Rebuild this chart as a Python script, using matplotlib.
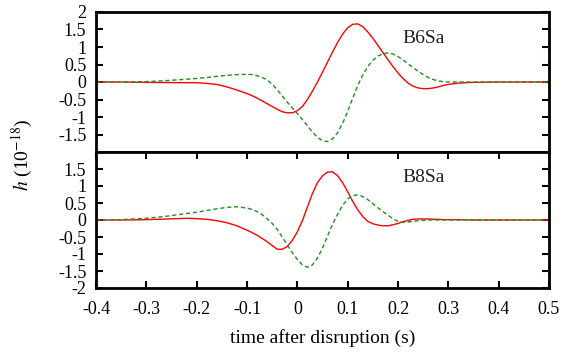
import matplotlib
matplotlib.use("Agg")
import matplotlib.pyplot as plt
from matplotlib.ticker import FixedLocator

t = ([-0.4, -0.35, -0.3, -0.26, -0.22, -0.2, -0.18, -0.16, -0.14, -0.12]
     + [round(-0.10 + 0.01 * i, 2) for i in range(41)]
     + [0.32, 0.35, 0.4, 0.5])

b6_red = [0, 0, -0.01, -0.015, -0.02, -0.02, -0.04, -0.07, -0.14, -0.23,
          -0.33, -0.39, -0.46, -0.54, -0.62, -0.70, -0.78, -0.85, -0.88, -0.88,
          -0.82, -0.70, -0.50, -0.26, 0.0, 0.28, 0.57, 0.86, 1.13, 1.37,
          1.55, 1.65, 1.66, 1.58, 1.43, 1.25, 1.05, 0.84, 0.64, 0.44,
          0.26, 0.10, -0.03, -0.12, -0.17, -0.19, -0.19, -0.17, -0.14, -0.10,
          -0.07,
          -0.03, -0.01, 0, 0]
b6_green = [0, 0, 0.01, 0.04, 0.08, 0.10, 0.13, 0.16, 0.19, 0.21,
            0.22, 0.21, 0.18, 0.13, 0.06, -0.06, -0.22, -0.40, -0.58, -0.74,
            -0.90, -1.07, -1.25, -1.43, -1.58, -1.68, -1.70, -1.62, -1.45, -1.18,
            -0.84, -0.46, -0.10, 0.20, 0.44, 0.62, 0.74, 0.81, 0.83, 0.80,
            0.73, 0.63, 0.52, 0.41, 0.31, 0.21, 0.13, 0.07, 0.03, 0.01,
            0.0,
            0, 0, 0, 0]
b8_red = [0, 0, 0.01, 0.03, 0.05, 0.04, 0.02, -0.02, -0.08, -0.17,
          -0.30, -0.37, -0.45, -0.54, -0.64, -0.75, -0.86, -0.86, -0.78, -0.60,
          -0.35, -0.02, 0.38, 0.78, 1.10, 1.30, 1.41, 1.42, 1.30, 1.10,
          0.83, 0.55, 0.30, 0.10, -0.04, -0.11, -0.15, -0.17, -0.17, -0.14,
          -0.10, -0.05, -0.01, 0.02, 0.03, 0.03, 0.03, 0.02, 0.02, 0.01,
          0.01,
          0.01, 0, 0, 0]
b8_green = [0, 0.01, 0.05, 0.11, 0.19, 0.23, 0.28, 0.33, 0.37, 0.39,
            0.35, 0.31, 0.25, 0.16, 0.04, -0.10, -0.28, -0.50, -0.73, -0.96,
            -1.16, -1.32, -1.39, -1.32, -1.12, -0.82, -0.47, -0.13, 0.17, 0.43,
            0.62, 0.72, 0.74, 0.69, 0.60, 0.48, 0.36, 0.25, 0.14, 0.04,
            -0.04, -0.07, -0.06, -0.04, -0.02, -0.01, 0, 0, 0, 0,
            0,
            0, 0, 0, 0]

labels = ["B6Sa", "B8Sa"]
yticks_top = [-1.5, -1, -0.5, 0, 0.5, 1, 1.5, 2]
yticks_bot = [-2, -1.5, -1, -0.5, 0, 0.5, 1, 1.5]
xticks = [-0.4, -0.3, -0.2, -0.1, 0, 0.1, 0.2, 0.3, 0.4, 0.5]

plt.rcParams['font.family'] = ['Liberation Serif', 'DejaVu Serif']
plt.rcParams['mathtext.fontset'] = 'stix'

fig = plt.figure(figsize=(5.63, 3.52), dpi=100)
W, H = 563, 352
left, right = 96 / W, 549 / W
ax1 = fig.add_axes([left, 1 - 152 / H, right - left, 140 / H])
ax2 = fig.add_axes([left, 1 - 288 / H, right - left, 136 / H])

red = "#ff0000"
green = "#1f8f1f"
for ax, r, g, lab, yt in [(ax1, b6_red, b6_green, labels[0], yticks_top),
                           (ax2, b8_red, b8_green, labels[1], yticks_bot)]:
    ax.plot(t, r, color=red, lw=1.0)
    ax.plot(t, g, color=green, lw=1.0, dashes=(3, 2))
    ax.set_xlim(-0.4, 0.5)
    ax.set_ylim(-2, 2)
    ax.yaxis.set_major_locator(FixedLocator(yt))
    ax.set_yticklabels([f"{v:g}" for v in yt])
    ax.xaxis.set_major_locator(FixedLocator(xticks))
    ax.tick_params(direction='in', length=5, width=1.5, labelsize=13,
                   right=True, top=(ax is ax2), bottom=(ax is ax2))
    ax.tick_params(axis='y', pad=7)
    ax.tick_params(axis='x', pad=9)
    for s in ax.spines.values():
        s.set_linewidth(2)
    ax.text(0.208, 1.25, lab, fontsize=14, va='center', ha='left', color='#222222')

ax1.tick_params(labelbottom=False)
ax2.set_xticklabels([f"{v:g}" for v in xticks])
ax2.set_xlabel("time after disruption (s)", fontsize=14, labelpad=8)
fig.text(22 / W, 1 - 155 / H, r"$h$ (10$^{-18}$)", rotation=90, fontsize=14,
         va='center', ha='center')

fig.savefig("out.png", dpi=100)
